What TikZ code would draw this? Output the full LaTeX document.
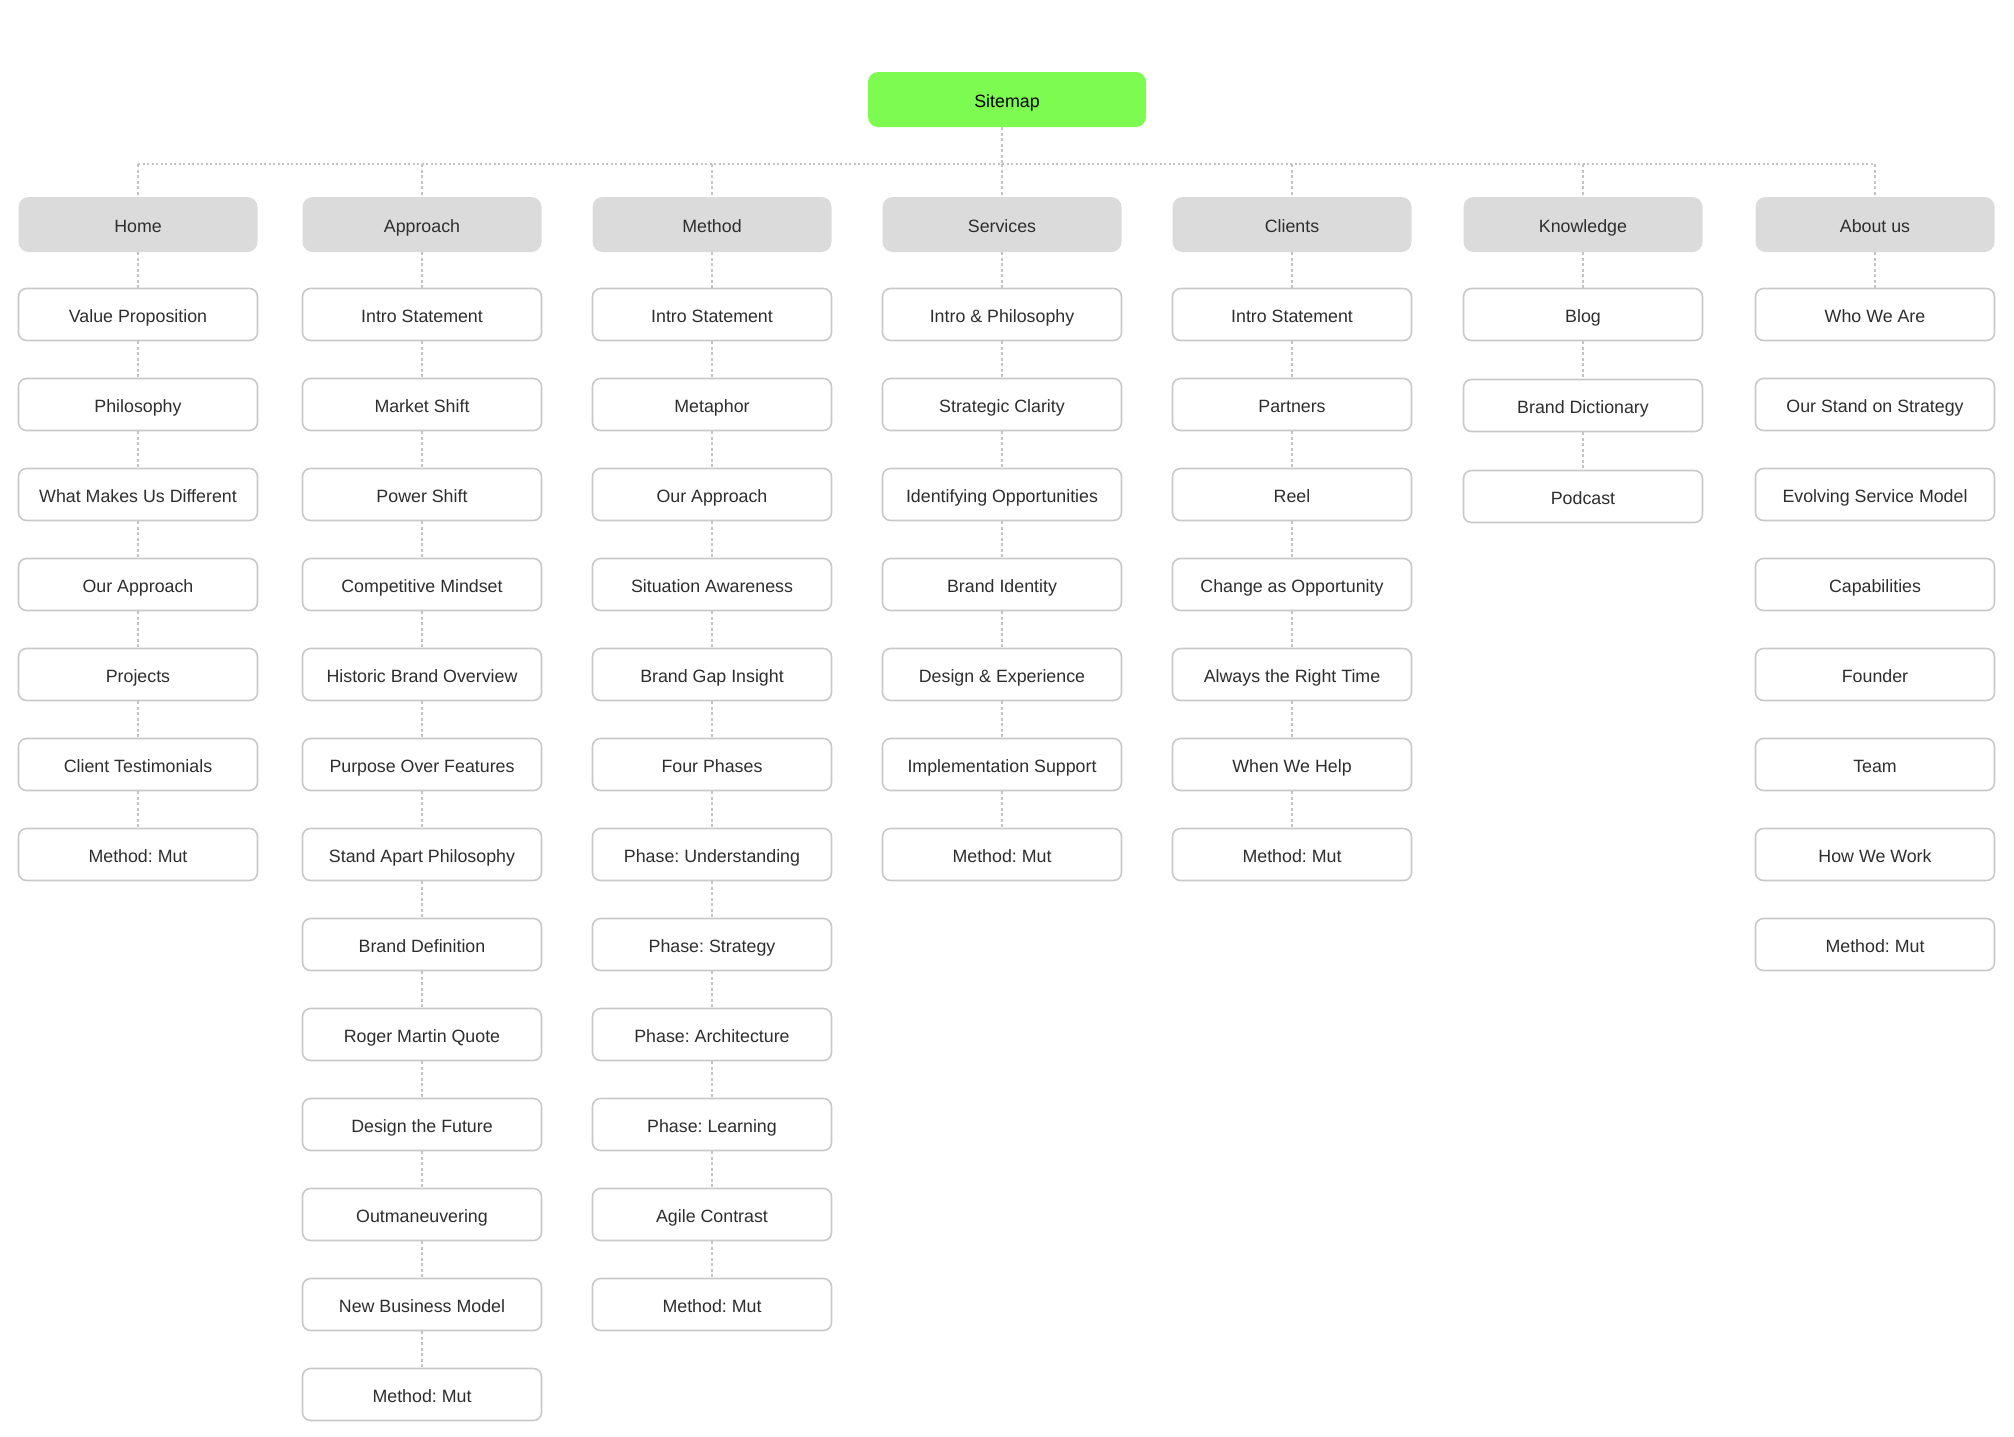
\documentclass[tikz,border=0pt]{standalone}
\usepackage{fontspec}
\setmainfont{Liberation Sans}
\frenchspacing
\definecolor{hdrfill}{HTML}{DBDBDB}
\definecolor{boxline}{HTML}{C9C9C9}
\definecolor{connline}{HTML}{C4C4C4}
\definecolor{txtgray}{HTML}{2E2E2E}
\definecolor{sitegreen}{RGB}{125,251,80}
\newcommand\sitecol[3]{%
  \foreach \t [count=\j] in {#3} {\node[leaf] (c#1-\j) at (#2,{314.5+90*(\j-1)}) {\t};}%
}
\newcommand\sitechain[2]{%
  \draw[conn] (h#1.south) -- (c#1-1.north);
  \foreach \j [evaluate=\j as \k using int(\j-1)] in {2,...,#2} {\draw[conn] (c#1-\k.south) -- (c#1-\j.north);}%
}
\begin{document}
\begin{tikzpicture}[x=1pt,y=-1pt,
  basebox/.style={inner sep=0pt, minimum width=239pt, text height=15pt, text depth=0pt,
    font=\fontsize{17.8}{21}\selectfont},
  leaf/.style={basebox, draw=boxline, line width=1.6pt, fill=white, rounded corners=8pt,
    minimum height=52pt, text=txtgray},
  hdr/.style={basebox, fill=hdrfill, rounded corners=10pt, minimum height=55pt, text=txtgray},
  rootbox/.style={basebox, fill=sitegreen, rounded corners=10pt, minimum width=278pt,
    minimum height=55pt, text=black},
  conn/.style={draw=connline, line width=1.2pt, dash pattern=on 3pt off 2.5pt},
  busline/.style={draw=connline, line width=1.2pt, dash pattern=on 2pt off 2.5pt}]
\useasboundingbox (0,0) rectangle (2014,1436);

\node[rootbox] (root) at (1007,99.5) {Sitemap};

\foreach \i/\x/\name in {1/138/Home,2/422/Approach,3/712/Method,4/1002/Services,
  5/1292/Clients,6/1583/Knowledge,7/1875/About us}
  {\node[hdr] (h\i) at (\x,224.5) {\name};}

\coordinate (bus) at (1002,164);

\sitecol{1}{138}{Value Proposition,Philosophy,What Makes Us Different,Our Approach,Projects,Client Testimonials,Method: Mut}
\sitecol{2}{422}{Intro Statement,Market Shift,Power Shift,Competitive Mindset,Historic Brand Overview,Purpose Over Features,Stand Apart Philosophy,Brand Definition,Roger Martin Quote,Design the Future,Outmaneuvering,New Business Model,Method: Mut}
\sitecol{3}{712}{Intro Statement,Metaphor,Our Approach,Situation Awareness,Brand Gap Insight,Four Phases,Phase: Understanding,Phase: Strategy,Phase: Architecture,Phase: Learning,Agile Contrast,Method: Mut}
\sitecol{4}{1002}{Intro \& Philosophy,Strategic Clarity,Identifying Opportunities,Brand Identity,Design \& Experience,Implementation Support,Method: Mut}
\sitecol{5}{1292}{Intro Statement,Partners,Reel,Change as Opportunity,Always the Right Time,When We Help,Method: Mut}
\node[leaf] (c6-1) at (1583,314.5) {Blog};
\node[leaf] (c6-2) at (1583,405.5) {Brand Dictionary};
\node[leaf] (c6-3) at (1583,496.5) {Podcast};
\sitecol{7}{1875}{Who We Are,Our Stand on Strategy,Evolving Service Model,Capabilities,Founder,Team,How We Work,Method: Mut}

% top connectors
\draw[conn] (h4.north |- root.south) -- (h4.north |- bus);
\draw[busline] (h1.north |- bus) -- (h7.north |- bus);
\foreach \i in {1,...,7} {\draw[conn] (h\i.north |- bus) -- (h\i.north);}

% column chains
\sitechain{1}{7}
\sitechain{2}{13}
\sitechain{3}{12}
\sitechain{4}{7}
\sitechain{5}{7}
\sitechain{6}{3}
\draw[conn] (h7.south) -- (c7-1.north);
\end{tikzpicture}
\end{document}
